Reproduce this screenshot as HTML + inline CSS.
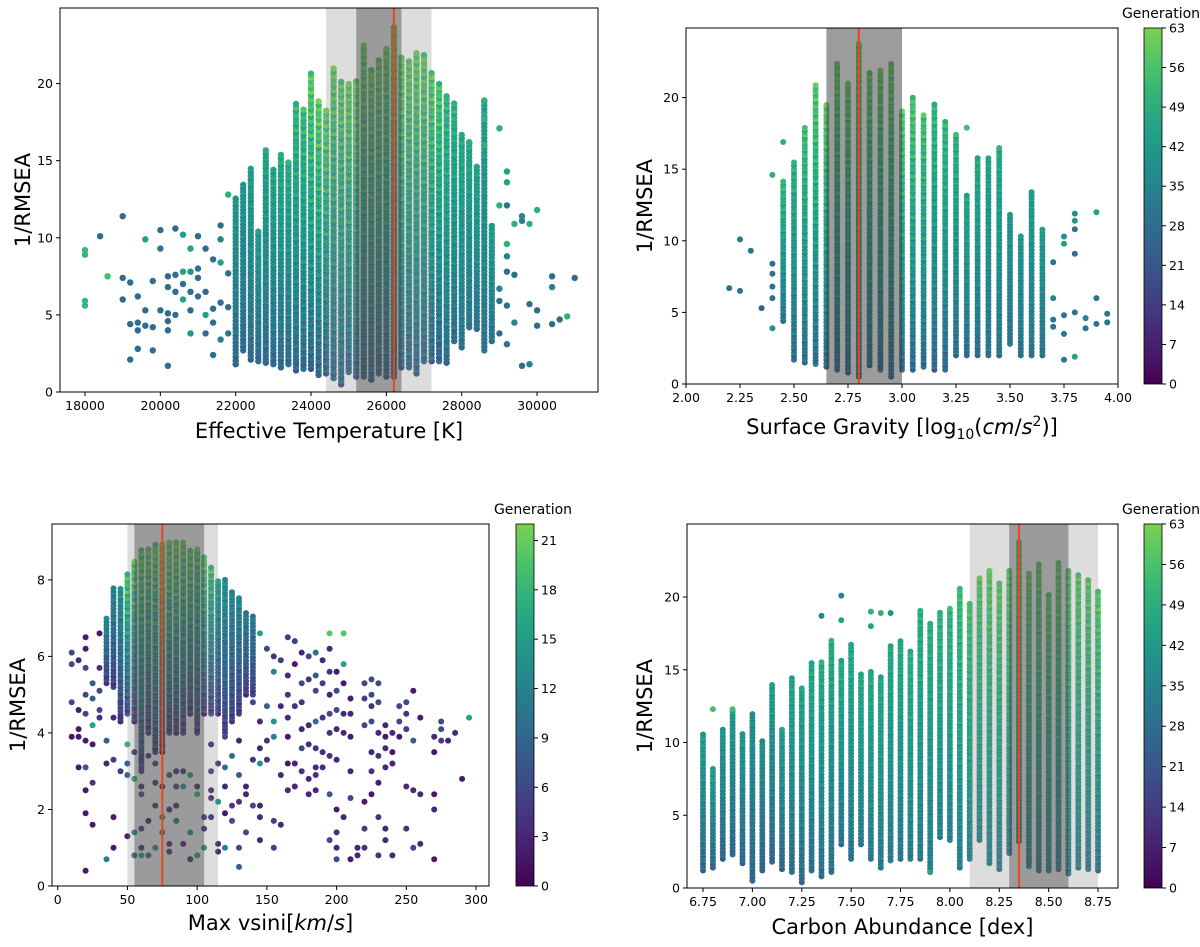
<!DOCTYPE html>
<html><head><meta charset="utf-8"><style>
html,body{margin:0;padding:0;background:#fff;}
svg{display:block;font-family:"DejaVu Sans","Liberation Sans",sans-serif;}
</style></head><body>
<svg id="fig" width="1200" height="947" viewBox="0 0 1200 947" xmlns="http://www.w3.org/2000/svg"></svg>
<script>
// ---------- Panel 1: Effective temperature ----------
const p1ColX=[22000,22200,22400,22600,22800,23000,23200,23400,23600,23800,24000,24200,24400,24600,24800,25000,25200,25400,25600,25800,26000,26200,26400,26600,26800,27000,27200,27400,27600,27800,28000,28200,28400,28600,28800];
const p1ColLo=[1.8,2.7,2.1,2,1.9,1.8,1.6,1.8,1.4,1.5,1.5,1.1,1.2,0.9,0.5,1.3,1,1,0.8,1.2,1,1,1.6,1.6,1.2,2,2,2,1.9,3.3,2.9,4.2,4.1,2.7,3.3];
const p1ColHi=[12.6,13.5,14.5,10.5,15.7,14.6,15.6,15,18.9,18.4,20.8,19,18.3,21.2,20.2,20,20.2,22.5,21,21.6,22.4,23.8,21.8,21.6,22,22,20.8,20.1,19.3,18.8,16.9,16.2,14.8,19,11];
const p1GenLo=[25,25,25,25,25,25,25,25,24,24,22,22,22,22,22,22,22,22,22,22,22,22,22,22,22,22,22,22,26,26,28,28,28,28,28];
const p1GenHi=[40,40,42,42,44,44,46,46,50,50,56,56,57,57,57,58,58,58,58,58,58,58,58,58,58,58,56,54,50,48,46,45,44,44,42];
const p1Pts=[[18000,5.6,52],[18000,5.9,52],[18000,8.9,52],[18000,9.2,52],[18400,10.1,28],[18600,7.5,55],[19000,11.4,28],[19000,7.4,28],[19000,6,28],[19200,4.4,28],[19200,7.1,28],[19200,2.1,28],[19400,4.5,28],[19400,6.2,28],[19400,4,28],[19400,2.8,28],[19600,9.9,45],[19600,5.3,28],[19600,4.3,28],[19800,7.2,28],[19800,4.2,28],[19800,2.7,28],[20000,10.5,28],[20000,9.3,30],[20000,5.3,28],[20200,7.5,28],[20200,6.8,28],[20200,5.1,28],[20200,4.6,28],[20200,4,28],[20200,1.7,28],[20400,10.6,28],[20400,7.6,28],[20400,6.5,28],[20400,5,28],[20600,10.2,45],[20600,7.8,45],[20600,7,28],[20600,6,45],[20800,9.3,45],[20800,7.8,40],[20800,6.5,28],[20800,5.3,28],[20800,3.8,40],[21000,10.1,28],[21000,8,28],[21000,7.4,28],[21000,6.2,28],[21200,9.3,28],[21200,6.5,28],[21200,5,45],[21200,3.8,28],[21400,8.6,28],[21400,5.4,28],[21400,4.5,28],[21400,2.4,28],[21600,10.8,28],[21600,9.9,35],[21600,8.4,45],[21600,5.8,28],[21600,3.4,35],[21800,12.8,50],[21800,7.7,28],[21800,3.8,30],[21800,5.5,28],[29000,17.1,50],[29000,12.1,50],[29000,6.7,35],[29000,5.9,30],[29000,3.8,28],[29200,14.3,45],[29200,13.6,45],[29200,12.1,30],[29200,9.6,50],[29200,8.8,35],[29200,7.8,30],[29200,5.6,30],[29200,3.1,30],[29400,10.9,50],[29400,7.6,28],[29400,4.5,35],[29600,11.4,35],[29600,11.1,35],[29600,1.7,28],[29800,10.9,50],[29800,5.7,28],[29800,1.8,35],[30000,11.8,50],[30000,5.3,28],[30000,4.3,28],[30400,7.5,28],[30400,6.8,35],[30400,4.4,28],[30600,4.7,28],[30800,4.9,50],[31000,7.4,28],[28600,16,50],[28600,17.7,50],[28600,18.9,50],[28200,16.2,50]];
const p1XTicks=[18000,20000,22000,24000,26000,28000,30000];
const p1YTicks=[0,5,10,15,20];

// ---------- Panel 2: Surface gravity ----------
const p2ColX=[2.45,2.50,2.55,2.60,2.65,2.70,2.75,2.80,2.85,2.90,2.95,3.00,3.05,3.10,3.15,3.20,3.25,3.30,3.35,3.40,3.45,3.50,3.55,3.60,3.65];
const p2ColLo=[4.4,1.7,1.5,1.4,1.2,1,0.8,0.5,1.3,1,0.5,1,1,1.2,1,1,2,2,2,2,2,2.8,2,2,2];
const p2ColHi=[14.2,15.7,18,21,19.5,22.5,21,24,21.8,22,22.4,19.2,20,19,19.7,18.3,17.4,13.2,16,15.8,16.5,12,10.5,13.5,11];
const p2GenLo=[28,25,25,25,24,24,24,24,24,24,24,24,24,24,24,24,26,26,26,28,28,28,28,28,28];
const p2GenHi=[50,48,52,55,56,57,57,57,57,57,57,55,54,53,50,50,48,45,46,44,46,40,40,42,42];
const p2Pts=[[2.20,6.7,30],[2.25,6.5,30],[2.25,10.1,30],[2.30,9.3,30],[2.35,5.3,25],[2.40,3.9,40],[2.40,6,30],[2.40,6.8,30],[2.40,7.7,30],[2.40,8.4,28],[2.40,14.6,50],[2.45,16.9,50],[3.70,4,30],[3.70,4.5,30],[3.70,6,35],[3.70,8.5,30],[3.75,1.7,30],[3.75,3.5,30],[3.75,4.8,30],[3.75,9.8,45],[3.75,10.3,40],[3.80,1.9,45],[3.80,5,30],[3.80,9.1,28],[3.80,10.8,30],[3.80,11.4,40],[3.80,11.9,40],[3.85,3.9,30],[3.85,4.6,35],[3.90,4.2,30],[3.90,6,30],[3.90,12,45],[3.95,4.3,30],[3.95,4.9,30],[3.30,17.9,55],[3.25,17.4,55],[3.20,18.3,50]];
const p2XTicks=[2.00,2.25,2.50,2.75,3.00,3.25,3.50,3.75,4.00];
const p2YTicks=[0,5,10,15,20];

// ---------- Panel 3: Max vsini ----------
const p3ColX=[35,40,45,50,55,60,65,70,75,80,85,90,95,100,105,110,115,120,125,130,135,140];
const p3ColLo=[5.3,5.2,4.3,4.5,4.3,3,4,3.5,3.5,4,4,4,4.5,4,4.5,4.5,4.5,4,4.3,4.5,5,5];
const p3ColHi=[7,7.8,7.8,8.2,8.5,8.8,8.8,9,9,9,9,9,8.8,8.8,8.6,8.4,8,8,7.7,7.6,7.2,7.1];
const p3GenLo=[4,4,4,4,3,3,3,3,3,3,3,3,3,3,3,3,4,4,4,4,4,4];
const p3GenHi=[12,12,13,19,19,20,20,21,21,21,21,20,20,19,19,18,14,13,12,12,11,11];
const p3Pts=[[10,6.1,6],[10,5.8,6],[10,4.8,6],[10,3.9,2],[15,5.9,3],[15,4.6,2],[15,4.1,2],[15,3.9,2],[15,3.1,2],[20,6.5,2],[20,6.2,2],[20,5.7,6],[20,5,6],[20,4.5,6],[20,3.8,2],[20,3.1,8],[20,2.5,2],[20,1.9,2],[20,0.4,2],[25,5.3,8],[25,4.9,8],[25,4.2,16],[25,3.7,2],[25,2.7,4],[25,1.6,2],[30,6.6,2],[30,5.7,4],[30,5.1,6],[30,4.6,6],[30,4.4,4],[35,3.8,8],[35,3.2,3],[35,0.7,12],[40,4.4,3],[40,3.3,5],[40,1.8,2],[40,1,2],[45,4.8,5],[45,4.4,4],[45,3,5],[50,3.7,18],[50,3.2,8],[50,2.9,8],[50,1.3,2],[55,3.5,4],[55,2.8,16],[55,1.4,12],[55,0.8,8],[60,3.3,4],[60,2.6,3],[60,2.4,6],[60,1.5,5],[60,1,4],[60,0.8,16],[65,3.4,4],[65,1.7,2],[65,0.8,10],[70,3.2,5],[70,2.7,3],[70,2.1,4],[70,1,14],[75,2.6,3],[75,1.8,12],[75,1.4,12],[80,2.9,8],[80,2,3],[80,1.1,3],[80,0.9,4],[85,3,3],[85,2.6,6],[85,2.1,3],[85,1.7,10],[90,3,4],[90,2.6,16],[90,1.1,3],[95,2.9,16],[95,1.4,14],[95,0.7,3],[100,2.6,3],[100,2.4,18],[100,0.8,16],[105,1.8,4],[105,1.5,3],[105,1,14],[110,3.7,3],[110,3,5],[110,2.5,3],[110,2.3,3],[110,1.8,3],[115,3.2,5],[115,2.2,14],[115,1.1,3],[115,0.9,3],[120,3.9,6],[120,3.1,10],[120,2.6,3],[120,1.9,2],[120,1,12],[125,3.4,10],[125,2.1,5],[125,1.7,6],[130,3.8,3],[130,2.9,8],[130,2.2,4],[130,1,6],[130,0.5,8],[135,2.6,3],[135,2.4,3],[135,1.4,6],[140,4.8,6],[140,3.3,4],[140,2.1,6],[145,4.3,3],[145,3.6,3],[145,3.2,14],[145,2.1,3],[145,1.8,3],[145,1.2,3],[150,6.2,6],[150,4.7,8],[150,3.8,4],[150,3.3,4],[155,6,4],[155,5.6,12],[155,4.3,14],[155,3.9,12],[155,1.7,5],[155,1,5],[160,5.9,5],[160,4.7,3],[160,2.9,3],[160,1.6,3],[165,6.5,5],[165,5.5,3],[165,5,4],[165,4.4,3],[165,3.9,2],[165,3.2,2],[165,2.5,3],[170,6.4,5],[170,5.8,2],[170,4.7,4],[170,3.2,3],[170,2.6,3],[175,6.1,3],[175,5.3,6],[175,4.8,4],[175,4.1,3],[175,3.6,6],[175,3,4],[180,6,6],[180,5.4,4],[180,4.2,3],[180,3.7,4],[180,2.8,3],[180,2.4,3],[185,6.1,10],[185,5.5,8],[185,5.1,6],[185,4.3,10],[185,3.6,4],[185,3.1,3],[185,2.9,4],[185,2.5,3],[190,5.9,3],[190,5.3,5],[190,4.4,4],[190,3.5,4],[190,3.1,3],[195,6.2,3],[195,5.6,4],[195,5,3],[195,4.5,6],[195,4,4],[195,3.4,4],[195,2.4,8],[195,1.2,6],[200,5.6,2],[200,5.1,6],[200,4.6,6],[200,4.1,3],[200,3.3,3],[200,2,2],[200,1.4,4],[200,1,3],[200,0.7,6],[205,5.8,16],[205,5.3,2],[205,4.5,3],[205,4,3],[205,1.8,3],[210,4.9,2],[210,4.5,3],[210,3.9,2],[210,3,3],[210,2.3,6],[210,0.7,2],[215,1,3],[215,0.8,3],[220,5.3,6],[220,4.9,5],[220,4.2,6],[220,2.2,2],[220,1.5,5],[220,1,4],[225,5.4,6],[225,5,6],[225,4.7,4],[225,4.3,6],[225,3.5,3],[225,3,4],[225,2.4,2],[230,5.3,6],[230,4.8,6],[230,4,3],[230,3.4,4],[230,2.7,2],[230,1.8,4],[230,0.8,4],[235,4.2,3],[235,3.9,2],[235,3.6,3],[235,3.1,3],[235,1.5,3],[235,1.2,3],[240,4,3],[240,3.5,2],[240,3.2,3],[240,0.8,3],[245,4.7,6],[245,4.3,6],[245,3.9,2],[250,4.8,6],[250,4.5,4],[250,4.1,5],[250,2.6,3],[250,1.5,4],[255,5.1,2],[255,3.8,8],[255,2.5,3],[255,1,6],[260,4.4,2],[260,2.4,3],[260,1.1,3],[270,3.9,3],[270,3.5,2],[270,2.4,2],[270,2,3],[270,0.7,2],[275,4.3,6],[275,4.1,6],[275,3.8,5],[280,3.8,3],[285,4,3],[290,2.8,2],[295,4.4,16],[205,6.6,20],[195,6.6,20],[145,6.6,16]];
const p3XTicks=[0,50,100,150,200,250,300];
const p3YTicks=[0,2,4,6,8];

// ---------- Panel 4: Carbon abundance ----------
const p4ColX=[6.75,6.80,6.85,6.90,6.95,7.00,7.05,7.10,7.15,7.20,7.25,7.30,7.35,7.40,7.45,7.50,7.55,7.60,7.65,7.70,7.75,7.80,7.85,7.90,7.95,8.00,8.05,8.10,8.15,8.20,8.25,8.30,8.35,8.40,8.45,8.50,8.55,8.60,8.65,8.70,8.75];
const p4ColLo=[1.2,1.4,2,2.3,1.7,0.5,1.2,1.8,1.3,1.1,0.4,1.2,0.8,1.1,3,2,3,2,1.4,1.9,2,2,2,1.1,3.5,3.3,1.4,2,3.3,1.7,1.3,2.4,3.2,1.5,1.2,1.2,1.3,1,1.4,1.3,1.2];
const p4ColHi=[10.7,8.2,11,12.3,10.6,12,10.3,14,11,14.5,13.9,15.6,15.7,17,15.7,16.9,14.7,15,14.7,16.8,17,16.3,19.1,18.3,19.1,19.2,20.7,19.7,21.3,21.8,21,21.8,23.8,21.8,22.4,20.3,22.5,21.8,21.7,21.3,20.4];
const p4GenLo=[24,24,24,24,24,24,24,24,24,25,25,26,26,27,28,28,30,30,30,30,30,30,30,30,32,32,32,32,32,30,30,30,30,30,30,30,30,30,30,28,28];
const p4GenHi=[42,42,40,40,40,38,38,42,42,44,44,46,46,46,46,46,46,46,46,46,46,48,48,48,50,50,52,54,56,57,57,57,57,57,57,57,57,56,56,56,56];
const p4Pts=[[6.80,12.3,55],[6.90,12.3,55],[7.35,18.7,35],[7.45,18.4,45],[7.45,20.1,35],[7.60,19,50],[7.60,18,45],[7.65,18.9,50],[7.70,18.9,40],[7.90,1.1,45]];
const p4XTicks=[6.75,7.00,7.25,7.50,7.75,8.00,8.25,8.50,8.75];
const p4YTicks=[0,5,10,15,20];
const cbTicks63=[0,7,14,21,28,35,42,49,56,63];
const cbTicks21=[0,3,6,9,12,15,18,21];

const NS='http://www.w3.org/2000/svg';
const svg=document.getElementById('fig');
function mk(tag,attrs,parent){const e=document.createElementNS(NS,tag);for(const k in attrs)e.setAttribute(k,attrs[k]);(parent||svg).appendChild(e);return e;}
const VIR=[[68,1,84],[72,36,117],[65,68,135],[53,95,141],[42,120,142],[33,145,140],[34,168,132],[68,191,112],[122,209,81]];
function vir(t){t=Math.max(0,Math.min(1,t));const f=t*(VIR.length-1);const i=Math.min(VIR.length-2,Math.floor(f));const r=f-i;const a=VIR[i],b=VIR[i+1];return 'rgb('+[0,1,2].map(k=>Math.round(a[k]+(b[k]-a[k])*r)).join(',')+')';}
const JIT=[0,0.55,-0.3,0.8,-0.15,0.35];

function panel(c){
  const g=mk('g',{});
  
  
  const sx=v=>c.x0+(v-c.xmin)/(c.xmax-c.xmin)*(c.x1-c.x0);
  const sy=v=>c.y1-(v-c.ymin)/(c.ymax-c.ymin)*(c.y1-c.y0);
  const dg=mk('g',{},g);
  
  
  const stepU=c.step/((c.y1-c.y0)/(c.ymax-c.ymin));
  for(let i=0;i<c.colX.length;i++){
    const lo=c.colLo[i],hi=c.colHi[i];
    let k=0;
    for(let y=lo;y<=hi+1e-9;y+=stepU){
      const fr=Math.pow((y-lo)/Math.max(hi-lo,1e-6),0.8);
      let gen=c.genLo[i]+(c.genHi[i]-c.genLo[i])*fr;
      gen+= (c.genHi[i]-c.genLo[i])*0.35*JIT[(k+i)%JIT.length];
      k++;
      const d=mk('circle',{cx:sx(c.colX[i]).toFixed(1),cy:sy(y).toFixed(1),r:c.r,fill:vir(gen/c.genMax)},dg);
      
      
    }
  }
  for(const p of c.pts){
    const d=mk('circle',{cx:sx(p[0]).toFixed(1),cy:sy(p[1]).toFixed(1),r:c.r,fill:vir(p[2]/c.genMax)},dg);
    
    
  }
  if(c.light){const r=mk('rect',{x:sx(c.light[0]),y:c.y0,width:sx(c.light[1])-sx(c.light[0]),height:c.y1-c.y0,fill:'rgba(128,128,128,0.27)'},g);
    }
  if(c.dark){const r=mk('rect',{x:sx(c.dark[0]),y:c.y0,width:sx(c.dark[1])-sx(c.dark[0]),height:c.y1-c.y0,fill:c.light?'rgba(60,60,60,0.41)':'rgba(60,60,60,0.51)'},g);
    }
  const rl=mk('line',{x1:sx(c.red),x2:sx(c.red),y1:c.y0,y2:c.y1,stroke:'#e8471c','stroke-width':2},g);
  
  const fr=mk('rect',{x:c.x0,y:c.y0,width:c.x1-c.x0,height:c.y1-c.y0,fill:'none',stroke:'#000','stroke-width':1},g);
  
  for(const t of c.xt){const x=sx(t);mk('line',{x1:x,x2:x,y1:c.y1,y2:c.y1+4,stroke:'#000'},g);
    const tx=mk('text',{x:x,y:c.y1+18,'text-anchor':'middle','font-size':12.5},g);tx.textContent=c.xfmt(t);
    }
  for(const t of c.yt){const y=sy(t);mk('line',{x1:c.x0-4,x2:c.x0,y1:y,y2:y,stroke:'#000'},g);
    const tx=mk('text',{x:c.x0-7,y:y+4.5,'text-anchor':'end','font-size':12.5},g);tx.textContent=t;
    }
  const xl=mk('text',{x:(c.x0+c.x1)/2,y:c.xly,'text-anchor':'middle','font-size':21},g);xl.innerHTML=c.xlabel;
  
  const yl=mk('text',{x:c.ylx,y:(c.y0+c.y1)/2,'text-anchor':'middle','font-size':21,transform:'rotate(-90 '+c.ylx+' '+((c.y0+c.y1)/2)+')'},g);yl.textContent='1/RMSEA';
  
  if(c.cb){
    const id='grad'+c.name;const defs=mk('defs',{},g);const lg=mk('linearGradient',{id:id,x1:0,y1:1,x2:0,y2:0},defs);
    for(let i=0;i<=10;i++)mk('stop',{offset:i/10,'stop-color':vir(i/10)},lg);
    const cb=mk('rect',{x:c.cb[0],y:c.y0,width:c.cb[1]-c.cb[0],height:c.y1-c.y0,fill:'url(#'+id+')',stroke:'#000','stroke-width':0.8},g);
    
    for(const t of c.cbt){const y=c.y1-t/c.genMax*(c.y1-c.y0);mk('line',{x1:c.cb[1],x2:c.cb[1]+4,y1:y,y2:y,stroke:'#000'},g);
      const tx=mk('text',{x:c.cb[1]+7,y:y+4.5,'font-size':12.5},g);tx.textContent=t;
      }
    const gt=mk('text',{x:(c.cb[0]+c.cb[1])/2+8,y:c.y0-10,'text-anchor':'middle','font-size':14},g);gt.textContent='Generation';
    
  }
}

panel({name:'teff-panel',x0:60,x1:598,y0:8,y1:392,xmin:17336,xmax:31618,ymin:0,ymax:24.9,colX:p1ColX,colLo:p1ColLo,colHi:p1ColHi,genLo:p1GenLo,genHi:p1GenHi,pts:p1Pts,genMax:63,r:3.2,step:3.6,light:[24400,27200],dark:[25200,26400],red:26200,xt:p1XTicks,yt:p1YTicks,xfmt:t=>String(t),xlabel:'Effective Temperature [K]',xly:438,ylx:30});
panel({name:'logg-panel',x0:686,x1:1118,y0:28,y1:384,xmin:2,xmax:4,ymin:0,ymax:24.86,colX:p2ColX,colLo:p2ColLo,colHi:p2ColHi,genLo:p2GenLo,genHi:p2GenHi,pts:p2Pts,genMax:63,r:3,step:3.4,dark:[2.65,3.00],red:2.80,xt:p2XTicks,yt:p2YTicks,xfmt:t=>t.toFixed(2),xlabel:'Surface Gravity [log<tspan font-size="14" dy="5">10</tspan><tspan dy="-5">(</tspan><tspan font-style="italic">cm</tspan>/<tspan font-style="italic">s</tspan><tspan font-size="14" dy="-8">2</tspan><tspan dy="8">)]</tspan>',xly:434,ylx:652,cb:[1144,1162],cbt:cbTicks63});
panel({name:'vsini-panel',x0:52,x1:489,y0:524,y1:886,xmin:-4.1,xmax:309.3,ymin:0,ymax:9.46,colX:p3ColX,colLo:p3ColLo,colHi:p3ColHi,genLo:p3GenLo,genHi:p3GenHi,pts:p3Pts,genMax:22,r:3,step:3.4,light:[50,115],dark:[55,105],red:75,xt:p3XTicks,yt:p3YTicks,xfmt:t=>String(t),xlabel:'Max vsini[<tspan font-style="italic">km</tspan>/<tspan font-style="italic">s</tspan>]',xly:930,ylx:25,cb:[516,534],cbt:cbTicks21});
panel({name:'carbon-panel',x0:687,x1:1118,y0:524,y1:888,xmin:6.669,xmax:8.851,ymin:0,ymax:25.02,colX:p4ColX,colLo:p4ColLo,colHi:p4ColHi,genLo:p4GenLo,genHi:p4GenHi,pts:p4Pts,genMax:63,r:3,step:3.4,light:[8.10,8.75],dark:[8.30,8.60],red:8.35,xt:p4XTicks,yt:p4YTicks,xfmt:t=>t.toFixed(2),xlabel:'Carbon Abundance [dex]',xly:934,ylx:652,cb:[1144,1162],cbt:cbTicks63});
</script>
</body></html>
